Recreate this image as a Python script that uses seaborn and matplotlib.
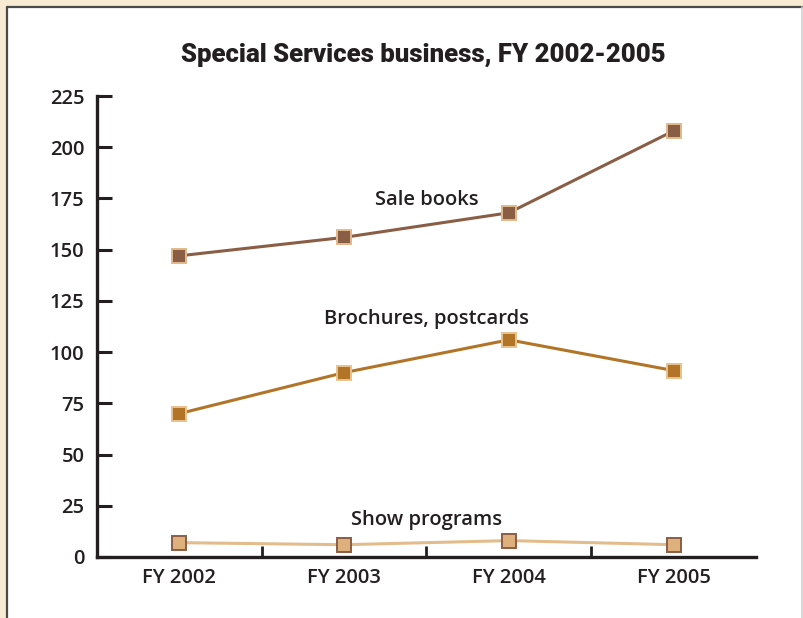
# Special Services business, FY 2002-2005 — line chart recreation

import pandas as pd
import matplotlib.pyplot as plt
import matplotlib.ticker as mticker
from matplotlib.patches import Rectangle
from matplotlib.lines import Line2D
import seaborn as sns

# ── Data ───────────────────────────────────────────────────────
years = ["FY 2002", "FY 2003", "FY 2004", "FY 2005"]
sale_books = [147, 156, 168, 208]
brochures = [70, 90, 106, 91]
show_programs = [7, 6, 8, 6]
series_names = ["Sale books", "Brochures, postcards", "Show programs"]
label_y = [174, 116, 18]

# ── Style ──────────────────────────────────────────────────────
sns.set_theme(style="white")
plt.rcParams.update({
    "font.family": ["Open Sans", "DejaVu Sans"],
    "text.color": "#231F20",
    "axes.labelcolor": "#231F20",
    "xtick.color": "#231F20",
    "ytick.color": "#231F20",
})

INK = "#231F20"
styles = {
    "Sale books":           dict(color="#8A5D45", mfc="#8A5D45", mec="#E2BA8A"),
    "Brochures, postcards": dict(color="#B27427", mfc="#B27427", mec="#E9C28E"),
    "Show programs":        dict(color="#E3BC8C", mfc="#DDB07C", mec="#8A5D45"),
}

df = pd.DataFrame({
    "year": years * 3,
    "value": sale_books + brochures + show_programs,
    "series": [s for s in series_names for _ in years],
})
df["x"] = df["year"].map({y: i for i, y in enumerate(years)})

fig = plt.figure(figsize=(8.04, 6.18), dpi=100, facecolor="#F8EBD4")

# white panel with dark left/top border (drawn below the axes)
fig.patches.append(Rectangle((7 / 804, 0), 1, 1 - 7 / 618, transform=fig.transFigure,
                             facecolor="white", edgecolor="none", zorder=-2))
fig.lines.append(Line2D([7.5 / 804, 7.5 / 804], [0, 1 - 6.5 / 618], transform=fig.transFigure,
                        color="#4A4A4A", lw=1.6, zorder=-1))
fig.lines.append(Line2D([7.5 / 804, 1], [1 - 6.5 / 618, 1 - 6.5 / 618], transform=fig.transFigure,
                        color="#4A4A4A", lw=1.6, zorder=-1))
fig.lines.append(Line2D([802 / 804, 802 / 804], [0, 1 - 7 / 618], transform=fig.transFigure,
                        color="#CFCFCF", lw=1.2, zorder=-1))

ax = fig.add_axes([97 / 804, 1 - 557 / 618, (756 - 97) / 804, (557 - 96) / 618])
ax.set_facecolor("none")

for name in series_names:
    st = styles[name]
    sns.lineplot(data=df[df["series"] == name], x="x", y="value", ax=ax,
                 color=st["color"], linewidth=2.2, marker="s", markersize=9.5,
                 markerfacecolor=st["mfc"], markeredgecolor=st["mec"],
                 markeredgewidth=1.4, legend=False)

for name, ly in zip(series_names, label_y):
    ax.text(1.5, ly, name, ha="center", va="center", fontsize=14.5,
            fontweight="semibold", color=INK)

ax.set_xlim(-0.5, 3.5)
ax.set_ylim(0, 225)
ax.set_xticks(range(len(years)))
ax.set_xticklabels(years)
ax.xaxis.set_minor_locator(mticker.FixedLocator([0.5, 1.5, 2.5]))
ax.set_yticks(range(0, 226, 25))
ax.tick_params(axis="x", which="major", bottom=True, length=0, pad=8, labelsize=14.5)
ax.tick_params(axis="x", which="minor", bottom=True, direction="in", length=8, width=2,
               color=INK)
ax.tick_params(axis="y", left=True, direction="in", length=11, width=2.2, pad=9,
               labelsize=14.5, color=INK)
for lab in ax.get_xticklabels() + ax.get_yticklabels():
    lab.set_fontweight("semibold")

ax.set_xlabel("")
ax.set_ylabel("")
for side in ["top", "right"]:
    ax.spines[side].set_visible(False)
for side in ["left", "bottom"]:
    ax.spines[side].set_color(INK)
    ax.spines[side].set_linewidth(2.4)

fig.text(423 / 804, 1 - 55 / 618, "Special Services business, FY 2002-2005",
         ha="center", va="center", fontsize=18.5, fontweight="heavy",
         family=["Roboto", "DejaVu Sans"], color=INK)

plt.savefig("out.png", dpi=100, facecolor=fig.get_facecolor())
